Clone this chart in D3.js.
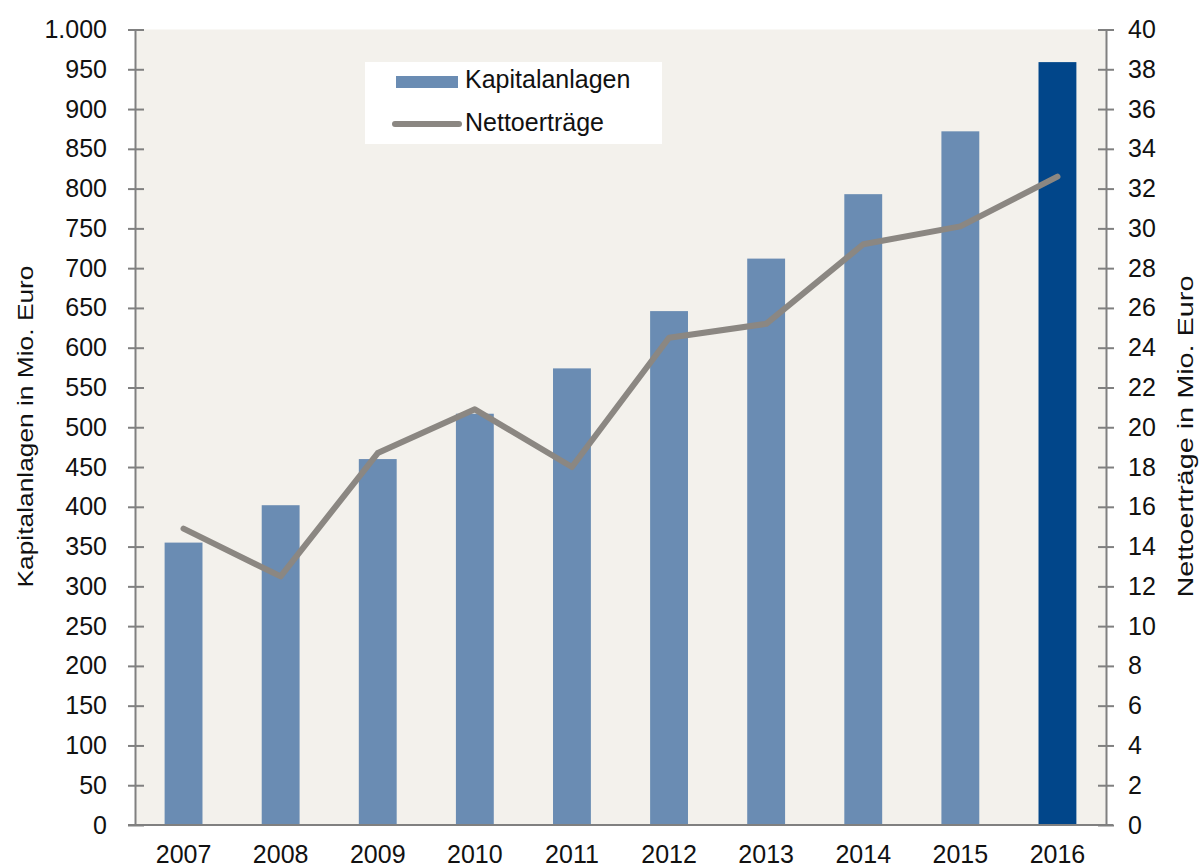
<!DOCTYPE html>
<html><head><meta charset="utf-8">
<script src="https://cdn.jsdelivr.net/npm/d3@7"></script>
<style>body{margin:0;background:#fff;} svg{display:block;font-family:"Liberation Sans",Arial,sans-serif;}</style>
</head><body>
<svg id="c" width="1202" height="868"></svg>
<script>
const years = ["2007","2008","2009","2010","2011","2012","2013","2014","2015","2016"];
const kapitalanlagen = [355, 402, 460, 517, 574, 646, 712, 793, 872, 959];
const nettoertraege = [14.9, 12.5, 18.7, 20.9, 18.0, 24.5, 25.2, 29.2, 30.1, 32.6];
const leftTicks = d3.range(0, 1001, 50);
const rightTicks = d3.range(0, 41, 2);
const leftTickLabels = leftTicks.map(v => v === 1000 ? "1.000" : String(v));
const legendLabels = ["Kapitalanlagen", "Nettoerträge"];
const axisTitles = ["Kapitalanlagen in Mio. Euro", "Nettoerträge in Mio. Euro"];

const svg = d3.select("#c");
const L = 135, R = 1106, T = 29.5, B = 825;
const FS = 25;
const x = d3.scaleBand().domain(years).range([L, R]).paddingInner(0.61).paddingOuter(0.305);
const yL = d3.scaleLinear().domain([0, 1000]).range([B, T]);
const yR = d3.scaleLinear().domain([0, 40]).range([B, T]);
const axisCol = "#808080", textCol = "#111";
const barCol = "#6a8cb3", barLast = "#01468a", lineCol = "#8b8782";

svg.append("rect").attr("x", L).attr("y", T).attr("width", R - L).attr("height", B - T).attr("fill", "#f3f1ec");

svg.append("g").selectAll("rect").data(years).join("rect")
  .attr("x", d => x(d)).attr("width", x.bandwidth())
  .attr("y", (d, i) => yL(kapitalanlagen[i]))
  .attr("height", (d, i) => B - yL(kapitalanlagen[i]))
  .attr("fill", (d, i) => i === years.length - 1 ? barLast : barCol);

const line = d3.line().x((d, i) => x(years[i]) + x.bandwidth() / 2).y(d => yR(d));
svg.append("path").datum(nettoertraege).attr("d", line)
  .attr("fill", "none").attr("stroke", lineCol).attr("stroke-width", 6)
  .attr("stroke-linejoin", "round").attr("stroke-linecap", "round");

// left axis
const gl = svg.append("g").attr("transform", `translate(${L},0)`)
  .call(d3.axisLeft(yL).tickValues(leftTicks).tickFormat((d, i) => leftTickLabels[i]).tickSizeInner(7).tickSizeOuter(0).tickPadding(21));
gl.select(".domain").attr("stroke", axisCol).attr("stroke-width", 2);
gl.selectAll(".tick line").attr("stroke", axisCol).attr("stroke-width", 2).attr("x2", 9).attr("x1", -7);
gl.selectAll(".tick text").attr("fill", textCol).attr("font-size", FS).attr("font-family", "Liberation Sans, Arial, sans-serif").attr("x", -28);

// right axis
const gr = svg.append("g").attr("transform", `translate(${R},0)`)
  .call(d3.axisRight(yR).tickValues(rightTicks).tickSizeInner(8).tickSizeOuter(0).tickPadding(14));
gr.select(".domain").attr("stroke", axisCol).attr("stroke-width", 2);
gr.selectAll(".tick line").attr("stroke", axisCol).attr("stroke-width", 2).attr("x1", -8).attr("x2", 8);
gr.selectAll(".tick text").attr("fill", textCol).attr("font-size", FS).attr("font-family", "Liberation Sans, Arial, sans-serif").attr("x", 22);

// bottom axis
const gb = svg.append("g").attr("transform", `translate(0,${B})`)
  .call(d3.axisBottom(x).tickSize(0).tickPadding(0));
gb.select(".domain").remove();
gb.selectAll(".tick text").attr("fill", textCol).attr("font-size", FS).attr("font-family", "Liberation Sans, Arial, sans-serif")
  .attr("dy", null).attr("y", 38);
svg.append("line").attr("x1", 128).attr("x2", 1113).attr("y1", B).attr("y2", B).attr("stroke", axisCol).attr("stroke-width", 2);

// axis titles
svg.append("text").attr("transform", `translate(33,${(263 + 590) / 2}) rotate(-90)`)
  .attr("text-anchor", "middle").attr("font-size", 22).attr("fill", textCol)
  .attr("textLength", 322).attr("lengthAdjust", "spacingAndGlyphs").text(axisTitles[0]);
svg.append("text").attr("transform", `translate(1193,${(275 + 598) / 2}) rotate(-90)`)
  .attr("text-anchor", "middle").attr("font-size", 22).attr("fill", textCol)
  .attr("textLength", 322).attr("lengthAdjust", "spacingAndGlyphs").text(axisTitles[1]);

// legend
const lg = svg.append("g");
lg.append("rect").attr("x", 365).attr("y", 62).attr("width", 297).attr("height", 82).attr("fill", "#fff");
lg.append("rect").attr("x", 396).attr("y", 76).attr("width", 62).attr("height", 12).attr("fill", barCol);
lg.append("line").attr("x1", 395).attr("x2", 459).attr("y1", 124).attr("y2", 124)
  .attr("stroke", lineCol).attr("stroke-width", 6).attr("stroke-linecap", "round");
lg.append("text").attr("x", 465).attr("y", 88).attr("font-size", FS).attr("fill", textCol).text(legendLabels[0]);
lg.append("text").attr("x", 465).attr("y", 131).attr("font-size", FS).attr("fill", textCol).text(legendLabels[1]);
</script>
</body></html>
